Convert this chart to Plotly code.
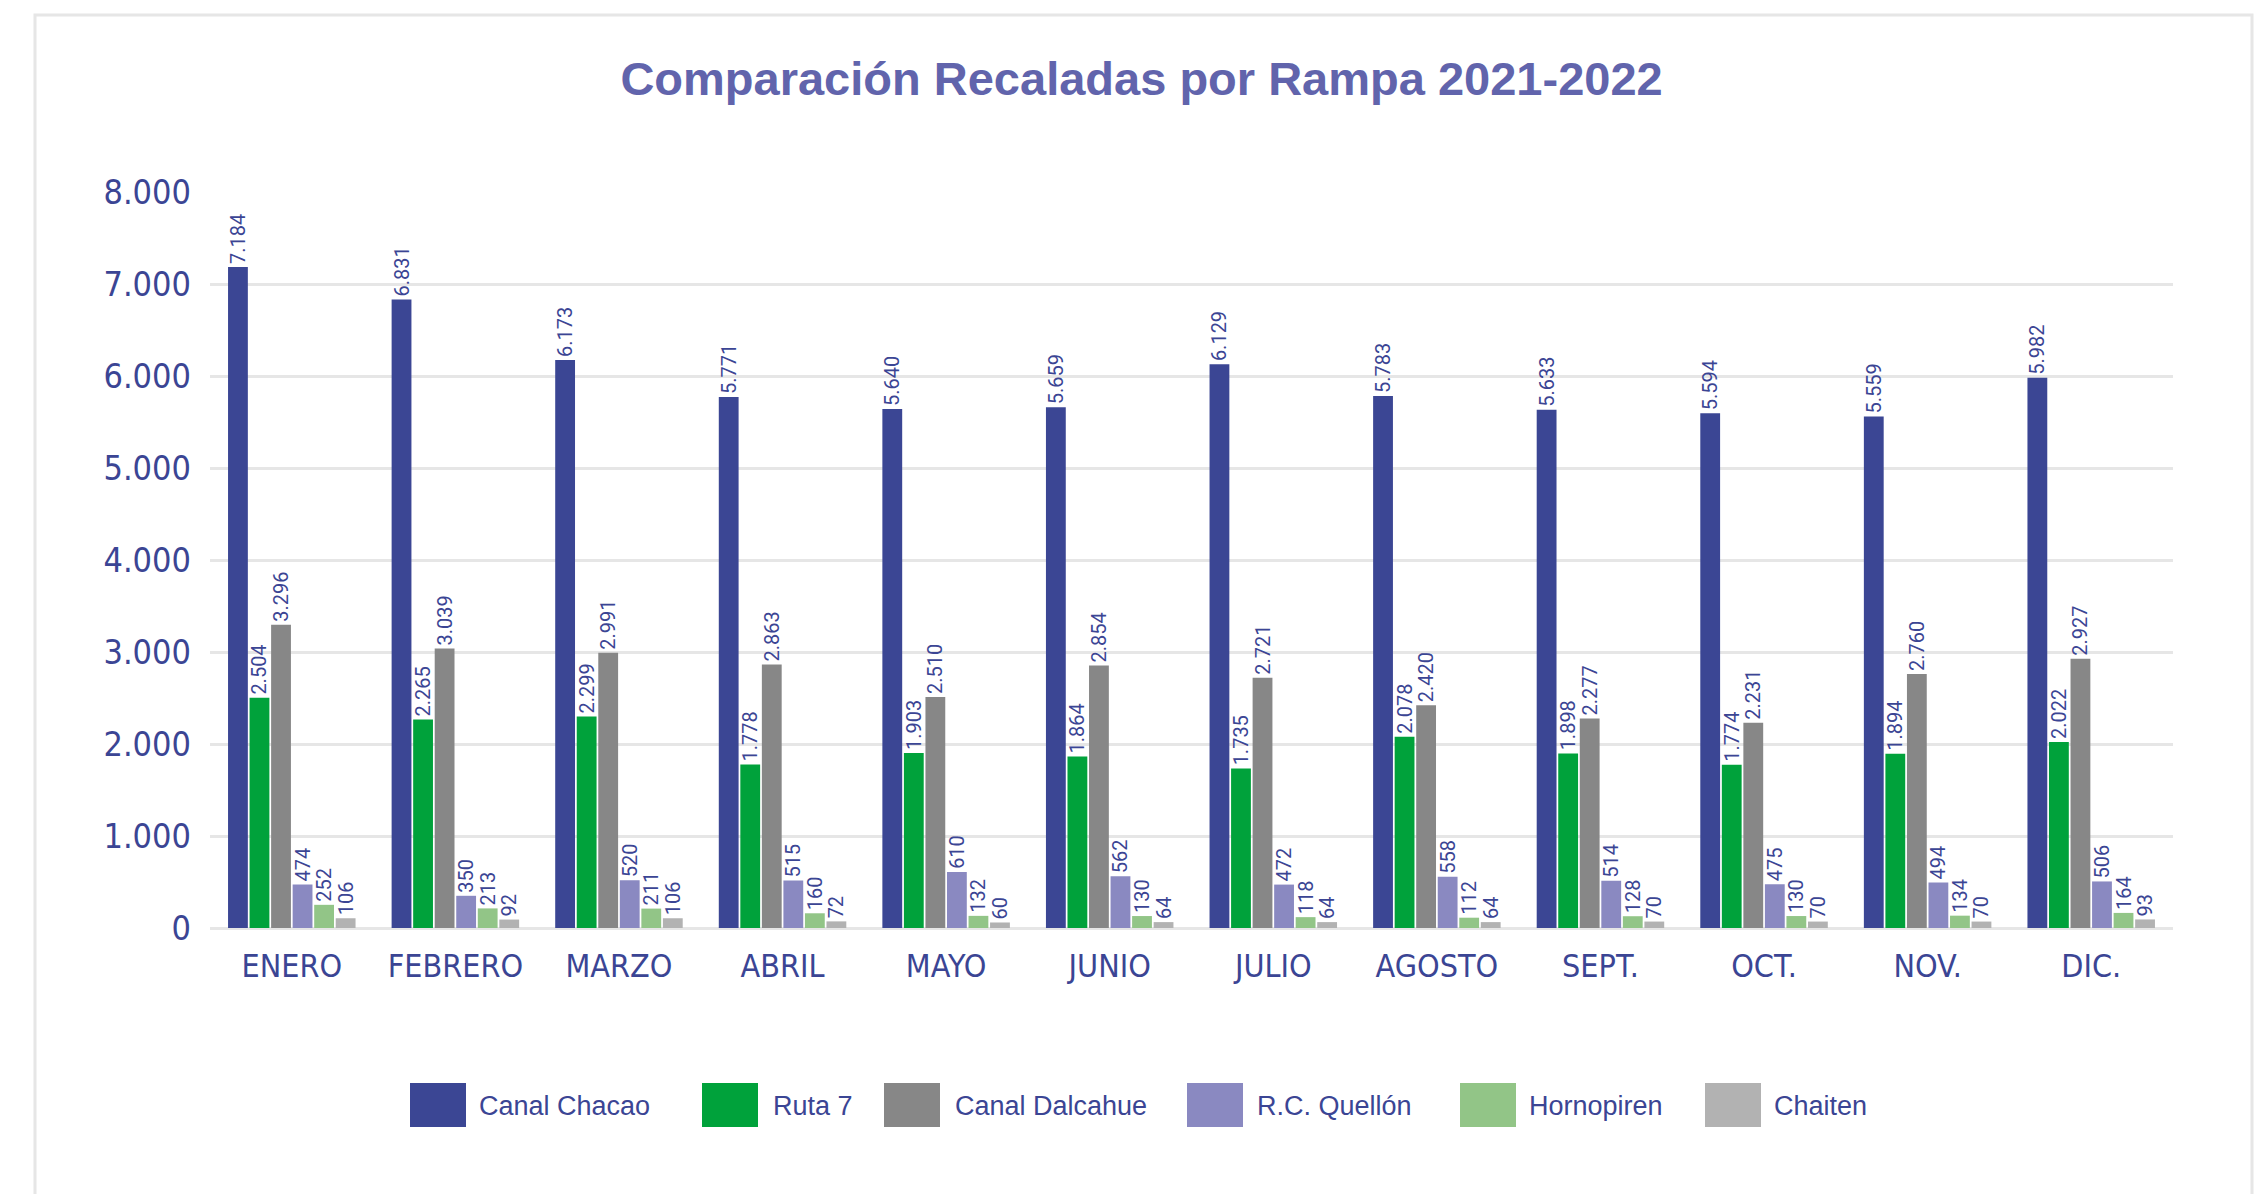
import plotly.graph_objects as go

meses = ['ENERO', 'FEBRERO', 'MARZO', 'ABRIL', 'MAYO', 'JUNIO',
         'JULIO', 'AGOSTO', 'SEPT.', 'OCT.', 'NOV.', 'DIC.']

canal_chacao = [7184, 6831, 6173, 5771, 5640, 5659, 6129, 5783, 5633, 5594, 5559, 5982]
ruta_7 = [2504, 2265, 2299, 1778, 1903, 1864, 1735, 2078, 1898, 1774, 1894, 2022]
canal_dalcahue = [3296, 3039, 2991, 2863, 2510, 2854, 2721, 2420, 2277, 2231, 2760, 2927]
rc_quellon = [474, 350, 520, 515, 610, 562, 472, 558, 514, 475, 494, 506]
hornopiren = [252, 213, 211, 160, 132, 130, 118, 112, 128, 130, 134, 164]
chaiten = [106, 92, 106, 72, 60, 64, 64, 64, 70, 70, 70, 93]

series = [
    ('Canal Chacao', canal_chacao, '#3b4694'),
    ('Ruta 7', ruta_7, '#00a23b'),
    ('Canal Dalcahue', canal_dalcahue, '#878787'),
    ('R.C. Quellón', rc_quellon, '#8a89c1'),
    ('Hornopiren', hornopiren, '#92c587'),
    ('Chaiten', chaiten, '#b2b2b2'),
]

TEXT = '#3b4594'
NARROW = 'Liberation Sans Narrow, DejaVu Sans Condensed, Arial Narrow, sans-serif'

W, H = 2265, 1194
ML, MR, MT, MB = 210, 92, 192, 266
PW, PH = W - ML - MR, H - MT - MB


# pixel -> paper helpers for the frame and the hand-drawn legend
def px(x):
    return (x - ML) / PW


def py(y):
    return (H - MB - y) / PH


fig = go.Figure()
for name, vals, color in series:
    fig.add_trace(go.Bar(
        x=meses, y=vals, name=name,
        marker=dict(color=color, line_width=0),
        texttemplate='%{y:,}',
        textposition='outside',
        textangle=-90,
        textfont=dict(family='Roboto, sans-serif', size=20, color=TEXT),
        constraintext='none',
        cliponaxis=False,
        showlegend=False,
    ))

shapes = [dict(type='rect', xref='paper', yref='paper',
               x0=px(35), x1=px(2252), y0=py(1300), y1=py(15),
               line=dict(color='#e6e6e6', width=3), layer='below')]
annotations = []

# legend: big square swatches with text beside them
leg_swatch_x = [410, 702, 884, 1187, 1460, 1705]
leg_text_x = [477, 771, 953, 1255, 1527, 1772]
for (name, vals, color), sx, tx in zip(series, leg_swatch_x, leg_text_x):
    shapes.append(dict(type='rect', xref='paper', yref='paper',
                       x0=px(sx), x1=px(sx + 56), y0=py(1127), y1=py(1083),
                       fillcolor=color, line_width=0))
    annotations.append(dict(text=name, xref='paper', yref='paper',
                            x=px(tx), y=py(1106), xanchor='left', yanchor='middle',
                            showarrow=False,
                            font=dict(family='Liberation Sans, Arial, sans-serif',
                                      size=27, color=TEXT)))

fig.update_layout(
    width=W, height=H,
    margin=dict(l=ML, r=MR, t=MT, b=MB),
    paper_bgcolor='white', plot_bgcolor='white',
    separators=',.',
    barmode='group',
    bargap=0.21,
    bargroupgap=0.08,
    title=dict(text='<b>Comparación Recaladas por Rampa 2021-2022</b>',
               x=0.504, xanchor='center', y=1 - 79 / H, yanchor='middle',
               font=dict(family='Liberation Sans, Arial, sans-serif',
                         size=47, color='#6164ac')),
    xaxis=dict(showgrid=False, showline=False, ticks='',
               tickfont=dict(family=NARROW, size=32, color=TEXT),
               ticklabelstandoff=16),
    yaxis=dict(range=[0, 8000], tickvals=list(range(0, 8001, 1000)),
               tickformat=',', showgrid=True, gridcolor='#e6e6e6', gridwidth=3,
               zeroline=True, zerolinecolor='#e6e6e6', zerolinewidth=3,
               showline=False, ticks='',
               tickfont=dict(family=NARROW, size=34, color=TEXT),
               ticklabelstandoff=18),
    shapes=shapes,
    annotations=annotations,
)

fig.write_html("out.html", config={'displayModeBar': False},
               post_script="document.body.style.margin='0';")
